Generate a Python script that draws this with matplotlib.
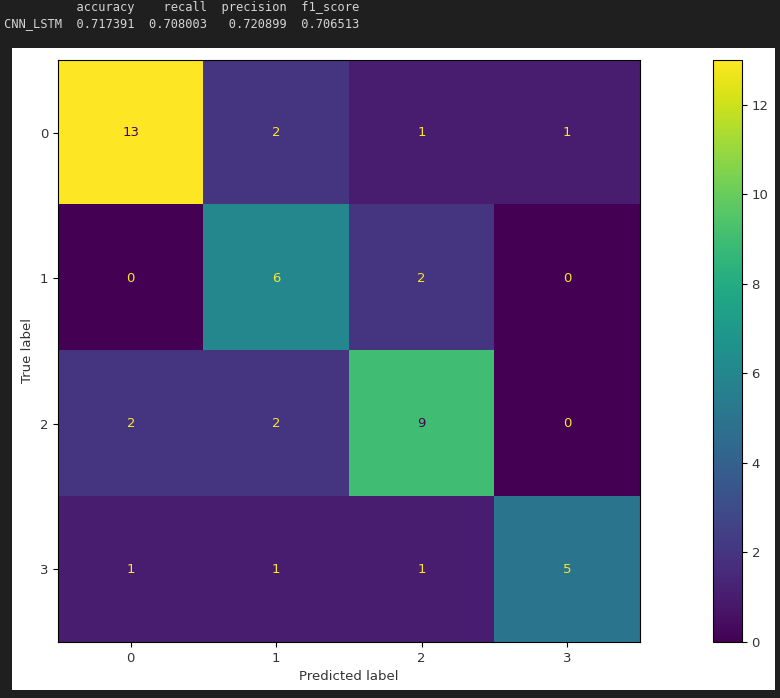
import matplotlib
matplotlib.use("Agg")
import matplotlib.pyplot as plt
import numpy as np

classes = ["0", "1", "2", "3"]
cm = np.array([[13, 2, 1, 1],
               [0, 6, 2, 0],
               [2, 2, 9, 0],
               [1, 1, 1, 5]])
metric_names = ["accuracy", "recall", "precision", "f1_score"]
model_name = "CNN_LSTM"
metric_values = [0.717391, 0.708003, 0.720899, 0.706513]

plt.rcParams["font.size"] = 9.5
plt.rcParams["text.color"] = "#333333"
plt.rcParams["axes.labelcolor"] = "#333333"
plt.rcParams["xtick.labelcolor"] = "#333333"
plt.rcParams["ytick.labelcolor"] = "#333333"

fig = plt.figure(figsize=(7.8, 6.98), dpi=100, facecolor="#1f1f1f")
bg = fig.add_axes([0.0154, 0.0115, 0.978, 0.9195], zorder=-10)
bg.set_facecolor("white")
bg.set_xticks([]); bg.set_yticks([])
for s in bg.spines.values():
    s.set_visible(False)

header = " " * 10 + f"{metric_names[0]:>8s}" + f"{metric_names[1]:>10s}" + \
    f"{metric_names[2]:>11s}" + f"{metric_names[3]:>10s}"
row = f"{model_name}  " + "  ".join(
    [f"{metric_values[0]:.6f}", f"{metric_values[1]:.6f}", f" {metric_values[2]:.6f}", f"{metric_values[3]:.6f}"])
fig.text(0.005, 1 - 8 / 698, header, family="DejaVu Sans Mono", fontsize=8.65,
         color="#d4d4d4", va="center", ha="left")
fig.text(0.005, 1 - 24 / 698, row, family="DejaVu Sans Mono", fontsize=8.65,
         color="#d4d4d4", va="center", ha="left")

ax = fig.add_axes([0.0744, 0.0802, 0.746, 0.834])
cmap = plt.get_cmap("viridis")
im = ax.imshow(cm, cmap=cmap, aspect="auto", vmin=cm.min(), vmax=cm.max())
thresh = (cm.max() + cm.min()) / 2.0
for i in range(cm.shape[0]):
    for j in range(cm.shape[1]):
        color = cmap(0.0) if cm[i, j] > thresh else cmap(1.0)
        ax.text(j, i, str(cm[i, j]), ha="center", va="center", color=color, fontsize=9.5)
ax.set_xticks(range(len(classes)))
ax.set_xticklabels(classes)
ax.set_yticks(range(len(classes)))
ax.set_yticklabels(classes)
ax.set_xlabel("Predicted label")
ax.set_ylabel("True label")

cax = fig.add_axes([0.914, 0.0802, 0.037, 0.834])
cb = fig.colorbar(im, cax=cax)
cb.set_ticks([0, 2, 4, 6, 8, 10, 12])

fig.savefig("out.png", dpi=100, facecolor=fig.get_facecolor())
